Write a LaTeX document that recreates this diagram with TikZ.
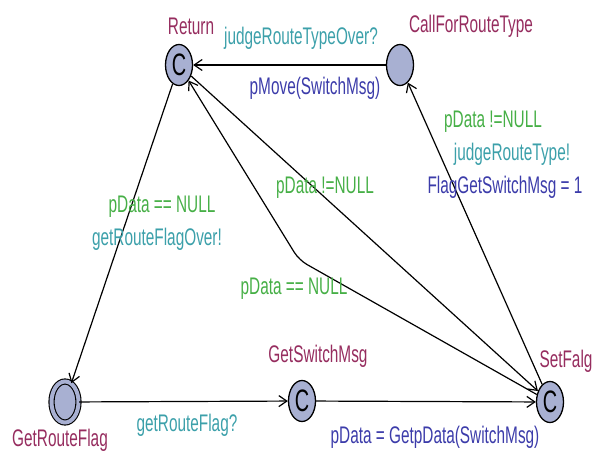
\documentclass[tikz,border=0pt]{standalone}
\usepackage{fontspec}
\setmainfont[FakeStretch=0.64]{Liberation Sans}
\usetikzlibrary{arrows.meta,shapes.geometric}
\definecolor{locname}{RGB}{150,45,95}
\definecolor{guardc}{RGB}{70,175,70}
\definecolor{syncc}{RGB}{60,160,170}
\definecolor{updc}{RGB}{60,60,170}
\definecolor{locfill}{RGB}{168,176,210}
\begin{document}
\begin{tikzpicture}[x=1pt,y=-1pt,
  every node/.style={font=\fontsize{24}{26}\selectfont, inner sep=0pt},
  loc/.style={ellipse, draw=black, line width=1.3pt, fill=locfill,
    minimum width=27pt, minimum height=41pt, font=\fontsize{31}{31}\selectfont},
  lname/.style={text=locname},
  guard/.style={text=guardc},
  sync/.style={text=syncc},
  upd/.style={text=updc},
  edge/.style={draw=black, line width=1.2pt, -{Straight Barb[length=8pt,width=11pt,line width=1.2pt]}}]
\path[use as bounding box] (0,0) rectangle (599,457);

% locations
\node[loc] (ret) at (179,65) {C};
\node[loc] (call) at (400,65) {};
\node[loc, double=locfill, double distance=4pt, line width=1.1pt] (grf) at (65,402) {};
\node[loc] (gsm) at (302,401) {C};
\node[loc] (setf) at (550,402) {C};

% location names
\node[lname] (retname) at (191,26) {Return};
\node[lname] (callname) at (471,26) {CallForRouteType};
\node[lname] (grfname) at (60,440) {GetRouteFlag};
\node[lname] (gsmname) at (318,356) {GetSwitchMsg};
\node[lname] (setfname) at (566,361) {SetFalg};

% transitions
\coordinate (nail) at (299,260);
\draw[edge] (call) -- (ret);
\draw[edge] (ret) -- (grf);
\draw[edge] (grf) -- (gsm);
\draw[edge] (gsm) -- (setf);
\draw[edge] (setf) -- (call);
\draw[edge] (ret) -- (setf);
\draw[edge, rounded corners=9pt] (setf) -- (nail) -- (ret);

% transition labels
\node[sync] (l1) at (301,38) {judgeRouteTypeOver?};
\node[upd] (l2) at (315,88) {pMove(SwitchMsg)};
\node[guard] (l3) at (162,207) {pData == NULL};
\node[sync] (l4) at (157,239) {getRouteFlagOver!};
\node[sync] (l5) at (187,425) {getRouteFlag?};
\node[upd] (l6) at (435,437) {pData = GetpData(SwitchMsg)};
\node[guard] (l7) at (493,122) {pData !=NULL};
\node[sync] (l8) at (512,154) {judgeRouteType!};
\node[upd] (l9) at (505,187) {FlagGetSwitchMsg = 1};
\node[guard] (l10) at (325,188) {pData !=NULL};
\node[guard] (l11) at (294,289) {pData == NULL};
\end{tikzpicture}
\end{document}
